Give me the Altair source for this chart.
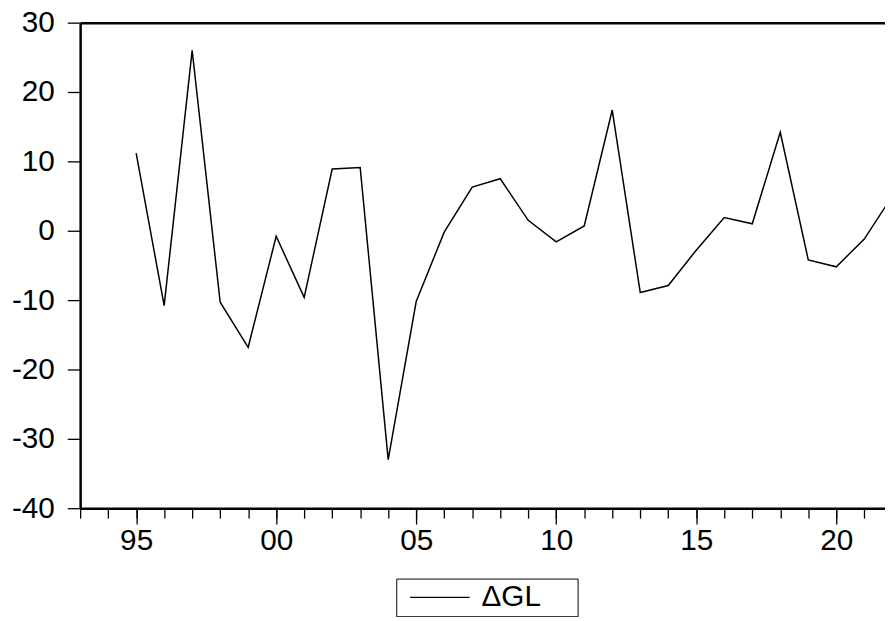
import altair as alt
import pandas as pd

# ---- data ----
years = list(range(1995, 2023))
dgl = [11.2, -10.8, 26.0, -10.3, -16.8, -0.8, -9.6, 8.9, 9.1, -33.0,
       -10.2, -0.2, 6.3, 7.5, 1.5, -1.6, 0.7, 17.4, -8.9, -7.9,
       -2.8, 1.9, 1.0, 14.2, -4.2, -5.2, -1.2, 5.0]
series_name = "ΔGL"

minor_ticks = list(range(1993, 2022))
major_ticks = [1995, 2000, 2005, 2010, 2015, 2020]
y_ticks = [-40, -30, -20, -10, 0, 10, 20, 30]

df = pd.DataFrame({"year": years, "value": dgl, "series": [series_name] * len(years)})

FONT = "Liberation Sans"
xscale = alt.Scale(domain=[1993, 2021.74], nice=False, zero=False)
yscale = alt.Scale(domain=[-40, 30], nice=False, zero=False)

y_axis = alt.Axis(values=y_ticks, tickSize=13, tickWidth=1.3, tickColor="black",
                  labelExpr="toString(datum.value)",
                  labelPadding=13, labelFontSize=30, labelFont=FONT, labelColor="black",
                  domain=True, domainWidth=2.5, domainColor="black", grid=False, title=None)
y_enc = alt.Y("value:Q", scale=yscale, axis=y_axis)

line = alt.Chart(df).mark_line(strokeWidth=1.5, clip=True).encode(
    x=alt.X("year:Q", scale=xscale,
            axis=alt.Axis(orient="bottom", values=minor_ticks, tickSize=10, labels=False,
                          domain=True, domainWidth=2.5, domainColor="black",
                          tickColor="black", tickWidth=1.3, grid=False, title=None)),
    y=y_enc,
    color=alt.Color("series:N", scale=alt.Scale(range=["black"]),
                    legend=alt.Legend(title="GG", titleOrient="right", titleOpacity=0,
                                      titleFontSize=20, titlePadding=1,
                                      orient="none", legendX=319, legendY=561,
                                      direction="horizontal", symbolType="M-1,0H11",
                                      symbolSize=100, symbolStrokeWidth=1.3,
                                      symbolStrokeColor="black", labelOffset=52,
                                      labelFontSize=30, labelFont=FONT, labelColor="black",
                                      padding=4, strokeColor="black")),
)

major = alt.Chart(df).mark_line(opacity=0, clip=True).encode(
    x=alt.X("year:Q", scale=xscale,
            axis=alt.Axis(orient="bottom", values=major_ticks, tickSize=16, tickWidth=1.3,
                          tickColor="black", labelExpr="slice(toString(datum.value), 2)",
                          labelFontSize=30, labelFont=FONT, labelColor="black",
                          labelPadding=2, domain=False, grid=False, title=None)),
    y=y_enc,
)

top = alt.Chart(df).mark_line(opacity=0, clip=True).encode(
    x=alt.X("year:Q", scale=xscale,
            axis=alt.Axis(orient="top", labels=False, ticks=False, domain=True,
                          domainWidth=2.5, domainColor="black", grid=False, title=None)),
    y=y_enc,
)

chart = alt.layer(line, major, top).resolve_axis(x="independent").properties(
    width=812.2, height=490,
    padding={"left": 72.8, "top": 12, "right": 0, "bottom": 107},
    autosize=alt.AutoSizeParams(type="none"),
).configure_view(stroke=None).configure(font=FONT)

chart.save("out.html", embed_options={"renderer": "svg", "actions": False})
